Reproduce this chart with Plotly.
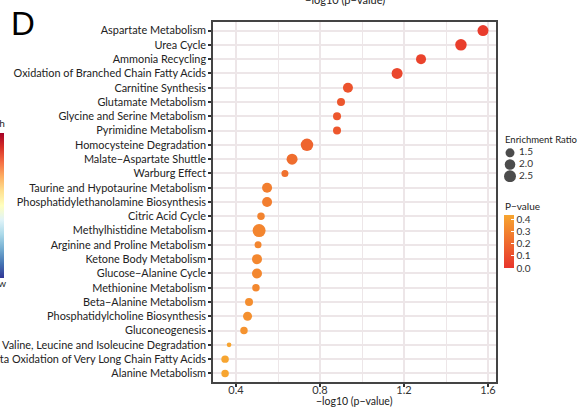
import plotly.graph_objects as go
import numpy as np

pathways = [
    "Aspartate Metabolism", "Urea Cycle", "Ammonia Recycling",
    "Oxidation of Branched Chain Fatty Acids", "Carnitine Synthesis",
    "Glutamate Metabolism", "Glycine and Serine Metabolism",
    "Pyrimidine Metabolism", "Homocysteine Degradation",
    "Malate\u2212Aspartate Shuttle", "Warburg Effect",
    "Taurine and Hypotaurine Metabolism",
    "Phosphatidylethanolamine Biosynthesis", "Citric Acid Cycle",
    "Methylhistidine Metabolism", "Arginine and Proline Metabolism",
    "Ketone Body Metabolism", "Glucose\u2212Alanine Cycle",
    "Methionine Metabolism", "Beta\u2212Alanine Metabolism",
    "Phosphatidylcholine Biosynthesis", "Gluconeogenesis",
    "Valine, Leucine and Isoleucine Degradation",
    "Beta Oxidation of Very Long Chain Fatty Acids", "Alanine Metabolism",
]
neg_log10_p = [1.576, 1.471, 1.281, 1.167, 0.933, 0.900, 0.881, 0.881, 0.738,
               0.667, 0.633, 0.548, 0.548, 0.519, 0.510, 0.505, 0.500, 0.500,
               0.495, 0.462, 0.455, 0.438, 0.367, 0.348, 0.348]
enrichment_ratio = [2.13, 2.31, 1.80, 2.13, 1.80, 1.23, 1.23, 1.23, 2.69,
                    2.13, 0.99, 1.80, 1.80, 1.10, 2.90, 0.99, 1.80, 1.80,
                    1.10, 1.23, 1.50, 1.10, 0.56, 1.10, 1.10]
size_legend_values = [1.5, 2.0, 2.5]
pvalue_ticks = [0.0, 0.1, 0.2, 0.3, 0.4]
x_ticks = [0.4, 0.8, 1.2, 1.6]

p_values = [10 ** (-v) for v in neg_log10_p]


def diam(r):
    return float(np.sqrt(max(81 + 63 * (r - 1.5), 4)))


FONT = "Lato"
TXT = "#222222"
# plot-area geometry (pixels)
L, T, W, H = 213, 22, 364, 360
PW = 283  # main panel width


def px_x(x):
    return (x - L) / W


def px_y(y):
    return 1 - (y - T) / H


pscale = [[0, "#E8352C"], [1, "#F7A530"]]
rdylbu = ["#313695", "#4575b4", "#74add1", "#abd9e9", "#e0f3f8", "#ffffbf",
          "#fee090", "#fdae61", "#f46d43", "#d73027", "#a50026"]
rdylbu_scale = [[i / 10, c] for i, c in enumerate(rdylbu)]

fig = go.Figure()

fig.add_trace(go.Scatter(
    x=neg_log10_p, y=pathways, mode="markers",
    marker=dict(
        size=[diam(r) for r in enrichment_ratio],
        color=p_values, colorscale=pscale, cmin=0, cmax=0.433,
        line=dict(width=0), opacity=1,
        showscale=True,
        colorbar=dict(
            x=px_x(504), xanchor="left", xpad=0,
            y=px_y(241.5), yanchor="middle", ypad=0,
            len=53, lenmode="pixels", thickness=10,
            outlinewidth=0, tickvals=pvalue_ticks, tickformat=".1f",
            ticks="inside", ticklen=3, tickcolor="white", tickwidth=1,
            tickfont=dict(family=FONT, size=10, color="#333333"),
        ),
    ),
    showlegend=False, hoverinfo="skip",
))

# decorative cropped colour bar at far left (from neighbouring panel)
fig.add_trace(go.Scatter(
    x=[None], y=[None], mode="markers",
    marker=dict(color=[0], cmin=0, cmax=1, colorscale=rdylbu_scale,
                showscale=True,
                colorbar=dict(x=px_x(-6), xanchor="left", xpad=0,
                              y=px_y(205.5), yanchor="middle", ypad=0,
                              len=145, lenmode="pixels", thickness=10,
                              outlinewidth=0, showticklabels=False, ticks="")),
    showlegend=False, hoverinfo="skip",
))

# size legend
fig.add_trace(go.Scatter(
    x=[10] * len(size_legend_values), y=size_legend_values, mode="markers",
    marker=dict(size=[diam(r) for r in size_legend_values], color="black",
                line=dict(width=0)),
    xaxis="x2", yaxis="y2", showlegend=False, hoverinfo="skip",
))
fig.add_trace(go.Scatter(
    x=[19] * len(size_legend_values), y=size_legend_values, mode="text",
    text=[f"{v:.1f}" for v in size_legend_values], textposition="middle right",
    textfont=dict(family=FONT, size=10, color="#333333"),
    xaxis="x2", yaxis="y2", showlegend=False, hoverinfo="skip",
))

grid = "#EDE6E8"
fig.update_layout(
    width=577, height=409,
    margin=dict(l=L, r=0, t=T, b=409 - T - H, autoexpand=False),
    paper_bgcolor="white", plot_bgcolor="white",
    font=dict(family=FONT, size=11, color=TXT),
    xaxis=dict(
        domain=[0, PW / W], range=[0.2905, 1.638],
        tickvals=x_ticks, tickformat=".1f",
        ticks="outside", ticklen=3, tickwidth=1.5, tickcolor="#333333",
        tickfont=dict(family=FONT, size=11, color="#333333"),
        ticklabelstandoff=-6,
        showgrid=True, gridcolor=grid, gridwidth=2,
        minor=dict(dtick=0.2, tick0=0, showgrid=True, gridcolor=grid,
                   gridwidth=1.3, ticks=""),
        showline=True, linecolor="#444444", linewidth=1.5, mirror=True,
        zeroline=False, automargin=False,
    ),
    yaxis=dict(
        type="category", categoryorder="array", categoryarray=pathways,
        range=[24.6, -0.6],
        ticks="outside", ticklen=3, tickwidth=1.5, tickcolor="#333333",
        tickfont=dict(family=FONT, size=10.9, color=TXT),
        showgrid=True, gridcolor=grid, gridwidth=2,
        showline=True, linecolor="#444444", linewidth=1.5, mirror=True,
        zeroline=False, automargin=False,
    ),
    xaxis2=dict(domain=[px_x(500), 1], range=[0, 77], visible=False,
                fixedrange=True),
    yaxis2=dict(domain=[px_y(182), px_y(147)], range=[2.75, 1.25],
                visible=False, fixedrange=True, anchor="x2"),
    annotations=[
        dict(text="D", xref="paper", yref="paper", x=px_x(9), y=px_y(3),
             xanchor="left", yanchor="top", showarrow=False,
             font=dict(family="Liberation Sans", size=33, color="black")),
        dict(text="\u2212log10 (p\u2212value)", xref="paper", yref="paper",
             x=px_x(345), y=px_y(-1), xanchor="center", yanchor="middle",
             showarrow=False, font=dict(family=FONT, size=11, color=TXT)),
        dict(text="\u2212log10 (p\u2212value)", xref="paper", yref="paper",
             x=px_x(354.5), y=px_y(401), xanchor="center", yanchor="middle",
             showarrow=False, font=dict(family=FONT, size=10.5, color=TXT)),
        dict(text="Enrichment Ratio", xref="paper", yref="paper",
             x=px_x(503), y=px_y(139), xanchor="left", yanchor="middle",
             showarrow=False, font=dict(family=FONT, size=9.5, color=TXT)),
        dict(text="P\u2212value", xref="paper", yref="paper",
             x=px_x(503), y=px_y(206), xanchor="left", yanchor="middle",
             showarrow=False, font=dict(family=FONT, size=10, color=TXT)),
        dict(text="High", xref="paper", yref="paper",
             x=px_x(7), y=px_y(123), xanchor="right", yanchor="middle",
             showarrow=False, font=dict(family=FONT, size=10, color=TXT)),
        dict(text="Low", xref="paper", yref="paper",
             x=px_x(8), y=px_y(283), xanchor="right", yanchor="middle",
             showarrow=False, font=dict(family=FONT, size=10, color=TXT)),
    ],
)

fig.write_html("out.html", config={"displayModeBar": False},
               post_script="document.body.style.margin='0';")
